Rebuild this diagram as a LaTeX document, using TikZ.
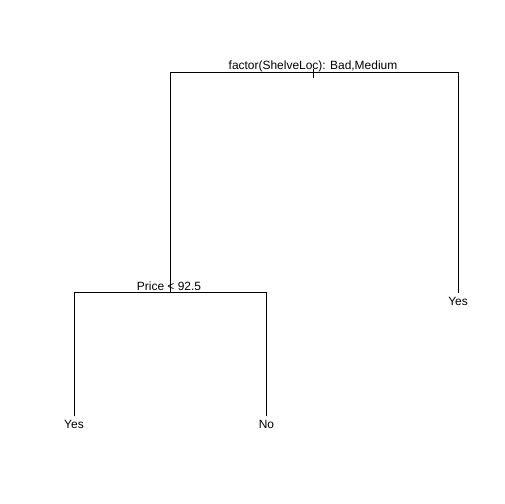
\documentclass[tikz,border=0pt]{standalone}
\usepackage{fontspec}
\setmainfont{Liberation Sans}
\usetikzlibrary{calc}
\tikzset{
  lbl/.style={inner sep=0pt, anchor=base, text=black, font=\fontsize{12}{14}\selectfont},
  edg/.style={line width=1bp, draw=black},
}
\begin{document}
\begin{tikzpicture}[x=1bp,y=-1bp]
\useasboundingbox (0,0) rectangle (504,504);
% split points and leaf ends
\coordinate (rt) at (313.5,72.5);
\coordinate (sp) at (170.5,292.5);
\coordinate (yr) at (458,292.5);
\coordinate (yl) at (74,416);
\coordinate (no) at (266.5,416);
% labels
\node[lbl] (rtl) at (313,70) {factor(ShelveLoc): Bad,Medium};
\node[lbl] (spl) at (169,290) {Price < 92.5};
\node[lbl] (yrl) at ([yshift=-12.5bp]yr) {Yes};
\node[lbl] (yll) at ([yshift=-12.5bp]yl) {Yes};
\node[lbl] (nol) at ([yshift=-12.5bp]no) {No};
% branches
\draw[edg] ([yshift=3.5bp]rt) -- ([yshift=-5.5bp]rt);
\draw[edg] (sp) |- (rt) -- (rt -| yr) -- (yr);
\draw[edg] (yl) |- (sp) -- (sp -| no) -- (no);
\end{tikzpicture}
\end{document}
